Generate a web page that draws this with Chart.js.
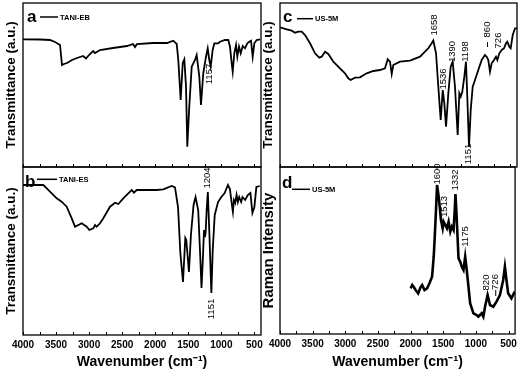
<!DOCTYPE html>
<html><head><meta charset="utf-8">
<script src="https://cdn.jsdelivr.net/npm/chart.js@4.4.0/dist/chart.umd.min.js"></script>
<style>
html,body{margin:0;padding:0;background:#fff;}
body{width:521px;height:372px;position:relative;overflow:hidden;}
canvas{position:absolute;}
</style></head><body>
<canvas id="ca" width="270" height="170" style="left:0;top:0"></canvas>
<canvas id="cb" width="270" height="208" style="left:0;top:164px"></canvas>
<canvas id="cc" width="263" height="170" style="left:258px;top:0"></canvas>
<canvas id="cd" width="263" height="208" style="left:258px;top:164px"></canvas>
<script>
// ---- axis ticks ----
const xTickValues = [4000,3750,3500,3250,3000,2750,2500,2250,2000,1750,1500,1250,1000,750,500];
const xTickLabels = [4000,3500,3000,2500,2000,1500,1000,500];

// ---- panel a: TANI-EB (FTIR) ----
const aWave = [4000,3743,3592,3516,3440,3410,3380,3334,3259,3183,3092,3047,3002,2941,2911,2835,2639,2427,2336,2306,2276,2034,1822,1727,1675,1651,1615,1584,1560,1534,1515,1485,1448,1398,1373,1333,1308,1273,1232,1206,1182,1161,1131,1106,1046,1020,945,895,869,843,828,804,778,758,733,707,677,642,607,577,551,526,501,465,415];
const aVal  = [127.7,127.5,127,125,122,102,103,104,107,109,111,108.5,112,116,114,117,119,121,123,120,123,124,124,126.3,123,107,67,104,107.7,80.3,20.3,60.3,100.3,107,112,90.3,62,93.7,110.3,118.7,107,100.3,117,123.7,123.7,125.3,127,127,120.3,103.7,95.3,113.7,122,110.3,120.3,113.7,121,118.7,123.7,125.3,126.3,110.3,123.7,127,127.7];

// ---- panel b: TANI-ES (FTIR) ----
const bWave = [4000,3693,3641,3490,3415,3339,3263,3213,3112,3036,2997,2937,2911,2886,2835,2785,2684,2608,2558,2483,2407,2356,2321,2280,2129,1978,1878,1751,1701,1655,1620,1580,1545,1530,1490,1460,1420,1390,1350,1320,1300,1280,1262,1248,1238,1222,1204,1180,1151,1130,1100,1050,1000,950,900,870,840,825,810,790,770,750,730,700,680,640,600,560,530,500,470,420];
const bVal  = [150,150,146.7,136.7,133.3,128.3,116.7,108.3,111.7,108.3,105,106.7,110,108.3,111.7,116.7,128.3,132.3,131,136.7,141.7,145,142.3,145,145,145,145.7,149,147.7,128,82,53,97,95,63,100,130,138,125,80,47,75,105,98,102,125,143,100,42,85,120,133,138,142,150,146,130,123,135,132,140,133,138,133,138,135,140,142,122,128,148,149];

// ---- panel c: US-5M (FTIR) ----
const cWave = [4000,3898,3822,3772,3722,3670,3620,3544,3468,3403,3367,3316,3266,3190,3089,3013,2963,2926,2861,2785,2683,2583,2481,2405,2364,2329,2303,2279,2177,2025,1873,1747,1696,1671,1630,1595,1559,1528,1504,1478,1443,1407,1377,1342,1301,1276,1255,1231,1200,1175,1155,1129,1103,1073,1038,988,936,886,861,836,810,785,749,719,699,668,632,597,567,547,517,496,465,430,400];
const cVal  = [139.7,137.7,136.3,134.3,135.3,135.3,132,123.7,113.7,109.3,110.3,115.3,113,105.3,98.7,93.7,88.7,87,89.3,89.7,93.7,96,97,98.7,107.7,105.3,93,102,105.3,106.3,110.3,118.7,123.7,126.5,113.7,80.3,47,77,63.7,40.3,73.7,100.3,105.3,80.3,32,73.7,70.3,75.3,90.3,105.3,70.3,20.3,57,80.3,87,97,107,112,110.3,107,95.3,103.7,107,110.3,107,113.7,117,118.7,123.7,125.3,120.3,118.7,132,138.7,138.7];

// ---- panel d: US-5M (Raman) ----
const dWave = [2000,1975,1949,1924,1884,1848,1823,1787,1747,1711,1671,1646,1630,1611,1595,1570,1554,1535,1509,1494,1468,1444,1418,1392,1368,1342,1324,1313,1296,1281,1266,1240,1216,1190,1164,1140,1114,1088,1038,988,962,912,886,860,821,784,734,684,632,582,556,532,506,456,405];
const dVal  = [45.7,49,46.7,44,40.7,46.7,49,44,45.7,50.7,57.3,77.3,97.3,124,149,137.3,127.3,114,105.7,112.3,109,105.7,112.3,102.3,107.3,104,124,140,119,97.3,75.7,72.3,67.3,64,77.3,64,47.3,30.7,20.7,19,17.3,20.7,17.3,27.3,39,29,27.3,32.3,39,54,67.3,54,40.7,35.7,42.3];

// ---- peak labels (text, wavenumber, level) ----
const aNotes = [{t:'1157', w:1187, v:93}];
const bNotes = [{t:'1204', w:1209, v:157},{t:'1151', w:1156, v:26}];
const cNotes = [{t:'1658', w:1661, v:142},{t:'1536', w:1524, v:88},{t:'1390', w:1380, v:115.5},{t:'1198', w:1182, v:115.5},{t:'1151', w:1133, v:13},{t:'860', w:848, v:137.5, tick:[125,120]},{t:'726', w:689, v:126.5}];
const dNotes = [{t:'1600', w:1585, v:160},{t:'1513', w:1486, v:127.5},{t:'1332', w:1311, v:154},{t:'1175', w:1167, v:97.5},{t:'820', w:840, v:51.5},{t:'726', w:696, v:52, tick:[44,38]}];

const FONT = "'Liberation Sans', Arial, Helvetica, sans-serif";

function pts(ws, vs){
  const n = Math.min(ws.length, vs.length), out = [];
  for (let i = 0; i < n; i++) out.push({x: ws[i], y: vs[i]});
  return out;
}

const decor = {
  id: 'decor',
  afterDraw(chart, args, o){
    const {ctx, chartArea: a, scales} = chart;
    const xs = scales.x, ys = scales.y;
    ctx.save();
    ctx.strokeStyle = '#000';
    ctx.lineWidth = 1.3;
    ctx.strokeRect(a.left, a.top, a.right - a.left, a.bottom - a.top);
    ctx.lineWidth = 1;
    ctx.beginPath();
    for (const v of xTickValues){
      const px = Math.round(xs.getPixelForValue(v)) + 0.5;
      ctx.moveTo(px, a.bottom); ctx.lineTo(px, a.bottom - 3);
    }
    ctx.stroke();
    ctx.fillStyle = '#000';
    ctx.font = 'bold 17px ' + FONT;
    ctx.textBaseline = 'alphabetic';
    ctx.textAlign = 'left';
    ctx.fillText(o.letter, a.left + o.lx, a.top + o.ly);
    ctx.lineWidth = 1.5;
    ctx.beginPath();
    ctx.moveTo(a.left + o.l1, a.top + o.lineY);
    ctx.lineTo(a.left + o.l2, a.top + o.lineY);
    ctx.stroke();
    ctx.font = 'bold 7.5px ' + FONT;
    ctx.textBaseline = 'middle';
    ctx.fillText(o.name, a.left + o.l2 + 2, a.top + o.lineY + 0.5);
    ctx.font = '9.5px ' + FONT;
    ctx.textAlign = 'center';
    ctx.textBaseline = 'middle';
    for (const n of o.notes){
      const px = xs.getPixelForValue(n.w), py = ys.getPixelForValue(n.v);
      ctx.save();
      ctx.translate(px, py);
      ctx.rotate(-Math.PI/2);
      ctx.fillText(n.t, 0, 0);
      ctx.restore();
      if (n.tick){
        ctx.lineWidth = 1;
        ctx.beginPath();
        ctx.moveTo(px, ys.getPixelForValue(n.tick[0]));
        ctx.lineTo(px, ys.getPixelForValue(n.tick[1]));
        ctx.stroke();
      }
    }
    ctx.restore();
  }
};

function panel(id, ws, vs, c){
  new Chart(document.getElementById(id), {
    type: 'line',
    data: { datasets: [{ data: pts(ws, vs), borderColor: '#000', borderWidth: c.lw, pointRadius: 0, tension: 0, fill: false }] },
    options: {
      responsive: false, animation: false,
      layout: { padding: { left: 0, right: c.pr, top: 3, bottom: 0 } },
      plugins: {
        legend: { display: false }, tooltip: { enabled: false },
        decor: { letter: c.letter, name: c.name, lx: c.lx, ly: c.ly, l1: c.l1, l2: c.l2, lineY: c.lineY, notes: c.notes }
      },
      scales: {
        x: {
          type: 'linear', reverse: true, min: 400, max: 4000,
          afterBuildTicks: s => { s.ticks = xTickValues.map(v => ({value: v})); },
          afterFit: s => { s.height = c.xh; },
          grid: { display: false, drawTicks: false },
          border: { display: false },
          ticks: {
            display: c.showX, autoSkip: false, maxRotation: 0, padding: 4,
            color: '#000', font: { family: FONT, size: 10, weight: 'bold' },
            callback: v => xTickLabels.includes(v) ? String(v) : ''
          },
          title: { display: c.showX, text: 'Wavenumber (cm\u207B\u00B9)', color: '#000',
                   font: { family: FONT, size: 14, weight: 'bold' }, padding: { top: 0, bottom: 1 } }
        },
        y: {
          min: 0, max: c.ymax,
          afterFit: s => { s.width = c.yw; },
          grid: { display: false }, border: { display: false },
          ticks: { display: false },
          title: { display: true, text: c.ytitle, color: '#000',
                   font: { family: FONT, size: c.ts, weight: 'bold' }, padding: { top: c.tp, bottom: 0 } }
        }
      }
    },
    plugins: [decor]
  });
}

panel('ca', aWave, aVal, {lw:1.8, pr:9, xh:3, yw:23, tp:3, ts:13.5, ymax:164, showX:false, ytitle:'Transmittance (a.u.)',
  letter:'a', name:'TANI-EB', lx:4, ly:19, l1:17, l2:35, lineY:14, notes:aNotes});
panel('cb', bWave, bVal, {lw:1.8, pr:9, xh:37, yw:23, tp:3, ts:13.5, ymax:168, showX:true, ytitle:'Transmittance (a.u.)',
  letter:'b', name:'TANI-ES', lx:2, ly:19.5, l1:14, l2:34, lineY:12.3, notes:bNotes});
panel('cc', cWave, cVal, {lw:1.8, pr:4, xh:3, yw:22, tp:2, ts:13.5, ymax:164, showX:false, ytitle:'Transmittance (a.u.)',
  letter:'c', name:'US-5M', lx:3, ly:19, l1:17, l2:33, lineY:15.7, notes:cNotes});
panel('cd', dWave, dVal, {lw:2.6, pr:4, xh:38, yw:22, tp:1.5, ts:15, ymax:167, showX:true, ytitle:'Raman Intensity',
  letter:'d', name:'US-5M', lx:2, ly:21, l1:12, l2:30, lineY:22.3, notes:dNotes});
</script>
</body></html>
